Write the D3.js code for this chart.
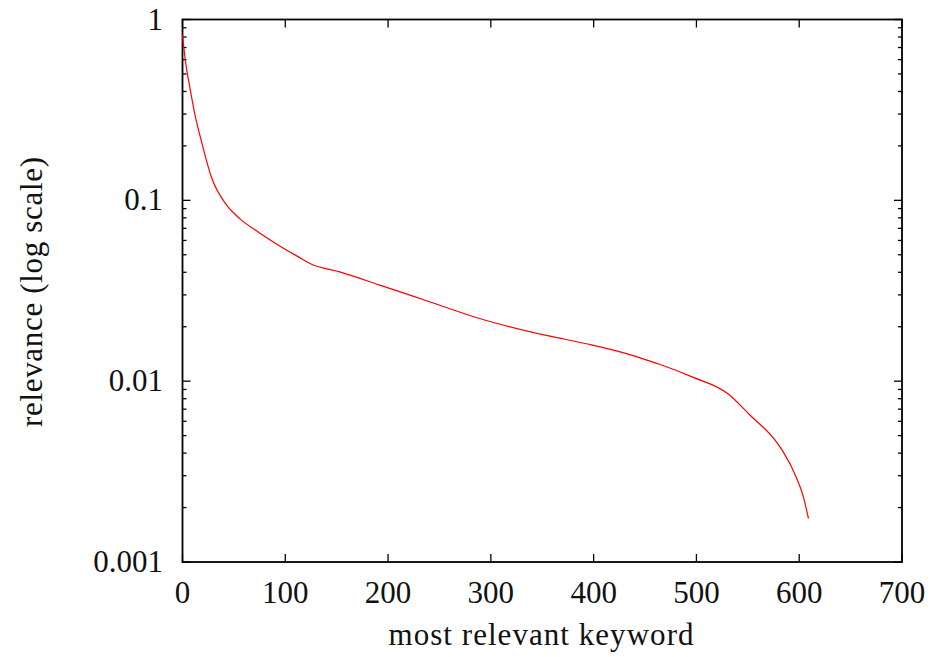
<!DOCTYPE html>
<html>
<head>
<meta charset="utf-8">
<script src="https://cdn.jsdelivr.net/npm/d3@7"></script>
<style>
  body { margin: 0; background: #fff; }
  text { font-family: "Liberation Serif", "DejaVu Serif", serif; fill: #111; }
</style>
</head>
<body>
<svg id="chart" width="937" height="657"></svg>
<script>
'use strict';

// keyword rank (x)
var ranks = [0, 3, 7, 12, 19, 28, 43, 56, 75, 95, 112, 125, 153, 192, 241, 289, 354, 393, 432,
             455, 464, 497, 531, 552, 578, 584, 597, 604, 609];
// relevance (y, log scale)
var relevance = [0.82, 0.58, 0.425, 0.3, 0.206, 0.135, 0.094, 0.079, 0.066, 0.0558, 0.049, 0.0445,
                 0.0402, 0.034, 0.0274, 0.0222, 0.0179, 0.0161, 0.0142,
                 0.0129, 0.0124, 0.0105, 0.0085, 0.0065, 0.0046, 0.0041, 0.00295, 0.0023, 0.00174];

var xTicks = [0, 100, 200, 300, 400, 500, 600, 700];
var yTicks = [1, 0.1, 0.01, 0.001];
var yTickLabels = ["1", "0.1", "0.01", "0.001"];

var svg = d3.select("#chart");
var m = {left: 182.5, right: 902, top: 19.5, bottom: 562};

var x = d3.scaleLinear().domain([0, 700]).range([m.left, m.right]);
var y = d3.scaleLog().domain([0.001, 1]).range([m.bottom, m.top]);

// minor ticks for the log axis: 2..9 in each decade
var minor = [];
[0.001, 0.01, 0.1].forEach(function(d){
    for (var k = 2; k <= 9; k++) minor.push(d * k);
});

var ticks = svg.append("g").attr("stroke", "#000").attr("stroke-width", 1.3);

// x ticks, bottom and top
xTicks.forEach(function(t){
    ticks.append("line").attr("x1", x(t)).attr("x2", x(t)).attr("y1", m.bottom).attr("y2", m.bottom - 8);
    ticks.append("line").attr("x1", x(t)).attr("x2", x(t)).attr("y1", m.top).attr("y2", m.top + 8);
});
// y ticks, left and right
yTicks.forEach(function(t){
    ticks.append("line").attr("x1", m.left).attr("x2", m.left + 8).attr("y1", y(t)).attr("y2", y(t));
    ticks.append("line").attr("x1", m.right).attr("x2", m.right - 8).attr("y1", y(t)).attr("y2", y(t));
});
minor.forEach(function(t){
    ticks.append("line").attr("x1", m.left).attr("x2", m.left + 4).attr("y1", y(t)).attr("y2", y(t));
    ticks.append("line").attr("x1", m.right).attr("x2", m.right - 4).attr("y1", y(t)).attr("y2", y(t));
});

// frame
svg.append("rect")
    .attr("x", m.left).attr("y", m.top)
    .attr("width", m.right - m.left).attr("height", m.bottom - m.top)
    .attr("fill", "none").attr("stroke", "#000").attr("stroke-width", 1.8);

// tick labels
svg.append("g").selectAll("text").data(xTicks).enter().append("text")
    .attr("x", function(d){ return x(d); })
    .attr("y", 603)
    .attr("text-anchor", "middle")
    .attr("font-size", 31)
    .text(function(d){ return d; });

svg.append("g").selectAll("text").data(yTicks).enter().append("text")
    .attr("x", 163)
    .attr("y", function(d){ return y(d) + 10; })
    .attr("text-anchor", "end")
    .attr("font-size", 31)
    .text(function(d, i){ return yTickLabels[i]; });

// axis titles
svg.append("text")
    .attr("x", 541).attr("y", 645)
    .attr("text-anchor", "middle")
    .attr("font-size", 31)
    .attr("textLength", 305)
    .text("most relevant keyword");

svg.append("text")
    .attr("transform", "translate(42,292) rotate(-90)")
    .attr("text-anchor", "middle")
    .attr("font-size", 31)
    .attr("textLength", 270)
    .text("relevance (log scale)");

// the curve
var pts = ranks.map(function(r, i){ return [r, relevance[i]]; });
var line = d3.line()
    .x(function(d){ return x(d[0]); })
    .y(function(d){ return y(d[1]); })
    .curve(d3.curveMonotoneX);

svg.append("path")
    .datum(pts)
    .attr("d", line)
    .attr("fill", "none")
    .attr("stroke", "#ff0000")
    .attr("stroke-width", 1.2);
</script>
</body>
</html>
